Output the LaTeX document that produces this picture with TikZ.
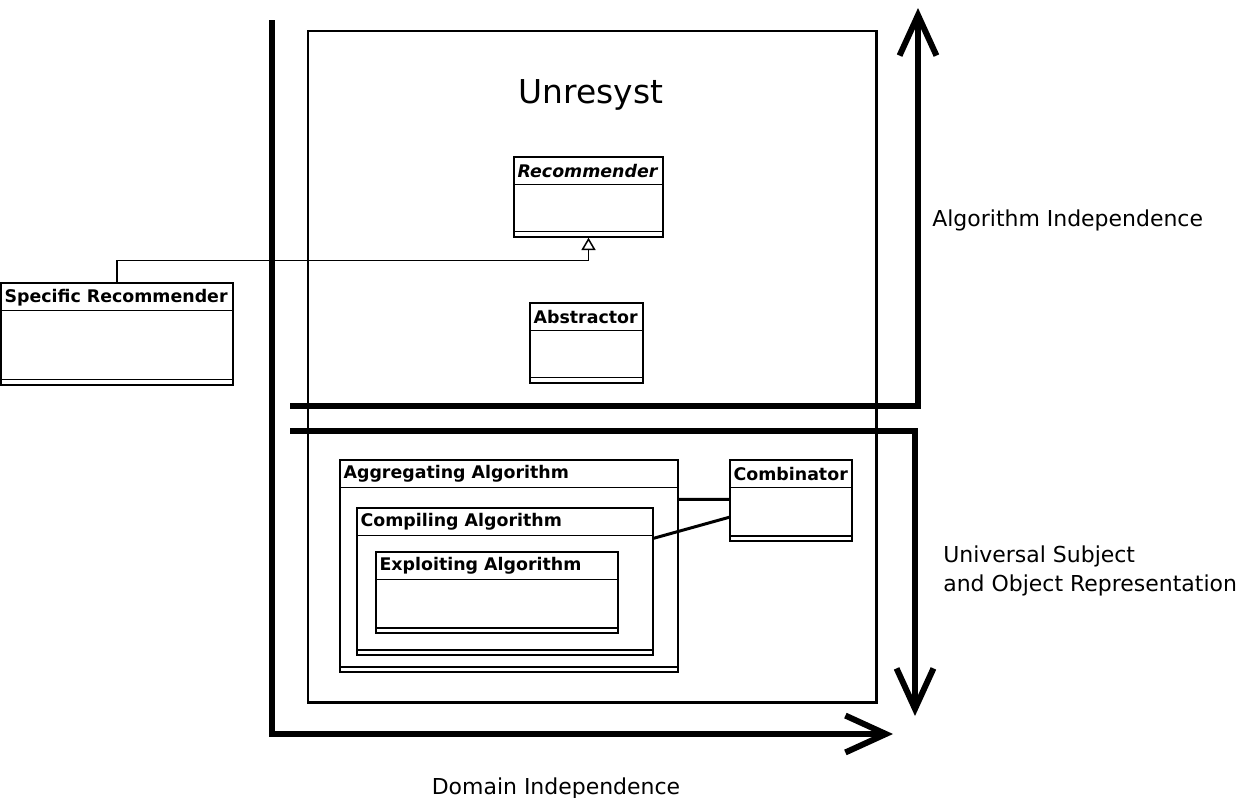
\documentclass[tikz,border=0pt]{standalone}
\usepackage{fontspec}
\setmainfont{DejaVu Sans}
\usetikzlibrary{calc}
\usetikzlibrary{arrows.meta}
\usetikzlibrary{fit}
\tikzset{
 classbox/.style={draw, line width=.85pt, inner sep=0},
 classline/.style={line width=.85pt},
 classtitle/.style={font=\fontsize{9.9}{12}\selectfont\bfseries, inner sep=0},
 axis/.style={line width=3.4pt, -{Straight Barb[length=23pt,width=21pt]}},
 axislabel/.style={font=\fontsize{12.5}{16.1}\selectfont, inner sep=0, align=left},
 assoc/.style={line width=1.7pt},
 generalize/.style={line width=.85pt, -{Triangle[open,length=7pt,width=8pt]}}
}
\newcommand{\umlclass}[4]{
 \node[classbox, fit={#2 #3}] (#1) {};
 \node[classtitle, anchor=west] (#1-title) at ($(#1.north west)+(4,15)$) {#4};
 \draw[classline] ($(#1.north west)+(0,28)$) -- ($(#1.north east)+(0,28)$);
 \draw[classline] ($(#1.south west)+(0,-6)$) -- ($(#1.south east)+(0,-6)$);
}

\begin{document}
\begin{tikzpicture} [x=.02cm, y=-.02cm]
\useasboundingbox (0,0) rectangle (1238,798);
\node[draw, line width=1.7pt, inner sep=0, fit={(308,31) (876,702)}] (unresyst) {};
\node[font=\fontsize{18.7}{22}\selectfont, inner sep=0] (unresyst-title) at (591,95) {Unresyst};

\draw[axis] (272,20) |- (893,734);
\draw[axis] (290,406) -| (918,8);
\draw[axis] (290,431) -| (915,716);

\node[axislabel, anchor=west] (alg-label) at (932,220) {Algorithm Independence};
\node[axislabel, anchor=west] (repr-label) at (943,571) {Universal Subject\\and Object Representation};
\node[axislabel] (domain-label) at (556,788) {Domain Independence};

\umlclass{rec}{(514,157)}{(663,237)}{\textit{Recommender}}
\umlclass{spec}{(1,283)}{(233,385)}{Specific Recommender}
\umlclass{abstr}{(530,303)}{(643,383)}{Abstractor}
\umlclass{agg}{(340,460)}{(678,672)}{Aggregating Algorithm}
\umlclass{comp}{(357,508)}{(653,655)}{Compiling Algorithm}
\umlclass{expl}{(376,552)}{(618,633)}{Exploiting Algorithm}
\umlclass{comb}{(730,460)}{(852,541)}{Combinator}

\draw[generalize] (spec.north) |- ($(rec.south)+(0,23)$) -- (rec.south);
\draw[assoc] ($(agg.north east)+(0,40)$) -- ($(comb.north west)+(0,40)$);
\draw[assoc] ($(comp.north east)+(0,31)$) -- ($(comb.north west)+(0,58)$);
\end{tikzpicture}
\end{document}
